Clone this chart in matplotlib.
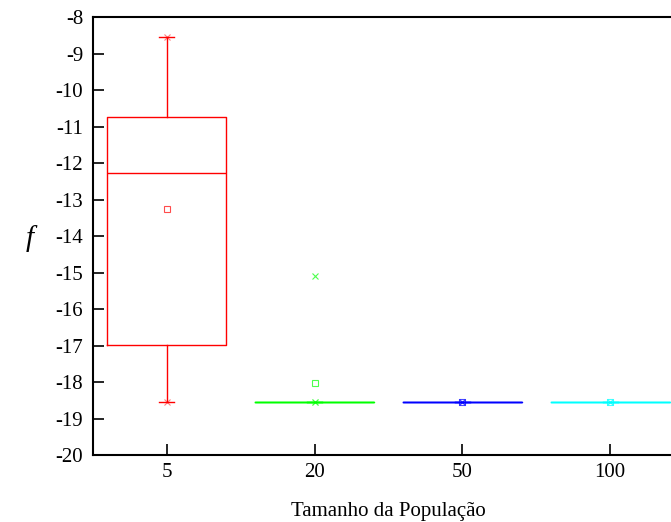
import matplotlib
matplotlib.use("Agg")
import matplotlib.pyplot as plt

categories = ["5", "20", "50", "100"]
q1 = [-16.99, -18.55, -18.55, -18.55]
q3 = [-10.74, -18.55, -18.55, -18.55]
medians = [-12.27, -18.55, -18.55, -18.55]
whislo = [-18.55, -18.55, -18.55, -18.55]
whishi = [-8.55, -18.55, -18.55, -18.55]
means = [-13.26, -18.03, -18.55, -18.55]
outliers = [[], [-15.1], [], []]
colors = ["#FF0000", "#00FF00", "#0000FF", "#00FFFF"]

plt.rcParams['font.family'] = ['Liberation Serif', 'DejaVu Serif']
plt.rcParams['axes.unicode_minus'] = False

fig = plt.figure(figsize=(6.71, 5.22), dpi=100)
ax = fig.add_axes([93/671, 1-455/522, (684-93)/671, (455-17)/522])

positions = list(range(1, len(categories)+1))
for i, p in enumerate(positions):
    c = colors[i]
    stats = [dict(med=medians[i], q1=q1[i], q3=q3[i], whislo=whislo[i],
                  whishi=whishi[i], mean=means[i], fliers=outliers[i])]
    ax.bxp(stats, positions=[p], widths=0.806, showmeans=True,
           showcaps=True, showfliers=True,
           boxprops=dict(color=c, lw=1.0),
           medianprops=dict(color=c, lw=1.0),
           whiskerprops=dict(color=c, lw=1.0),
           capprops=dict(color=c, lw=1.0),
           capwidths=0.1,
           meanprops=dict(marker='s', markerfacecolor='none', markeredgecolor=c,
                          markersize=4.5, markeredgewidth=0.8, alpha=0.7),
           flierprops=dict(marker='x', markeredgecolor=c, markersize=4.5,
                           markeredgewidth=0.8, alpha=0.7))
    ax.plot([p, p], [whislo[i], whishi[i]], linestyle='none', marker='x',
            markersize=4.5, markeredgewidth=0.8, color=c, alpha=0.5)

ax.set_xlim(0.5, 4.5)
ax.set_ylim(-20, -8)
ax.set_yticks(range(-20, -7))
ax.set_xticks(positions)
ax.set_xticklabels(categories)
ax.tick_params(direction='in', length=8, width=1.2, labelsize=15, pad=6)
ax.tick_params(axis='y', pad=7)
for s in ax.spines.values():
    s.set_linewidth(1.5)
ax.set_xlabel("Tamanho da População", fontsize=15, labelpad=14)
ax.set_ylabel("f", fontsize=21, style='italic', rotation=0,
              va='center', ha='center')
ax.yaxis.set_label_coords(-63/591, 0.494)

fig.savefig("out.png", dpi=100)
